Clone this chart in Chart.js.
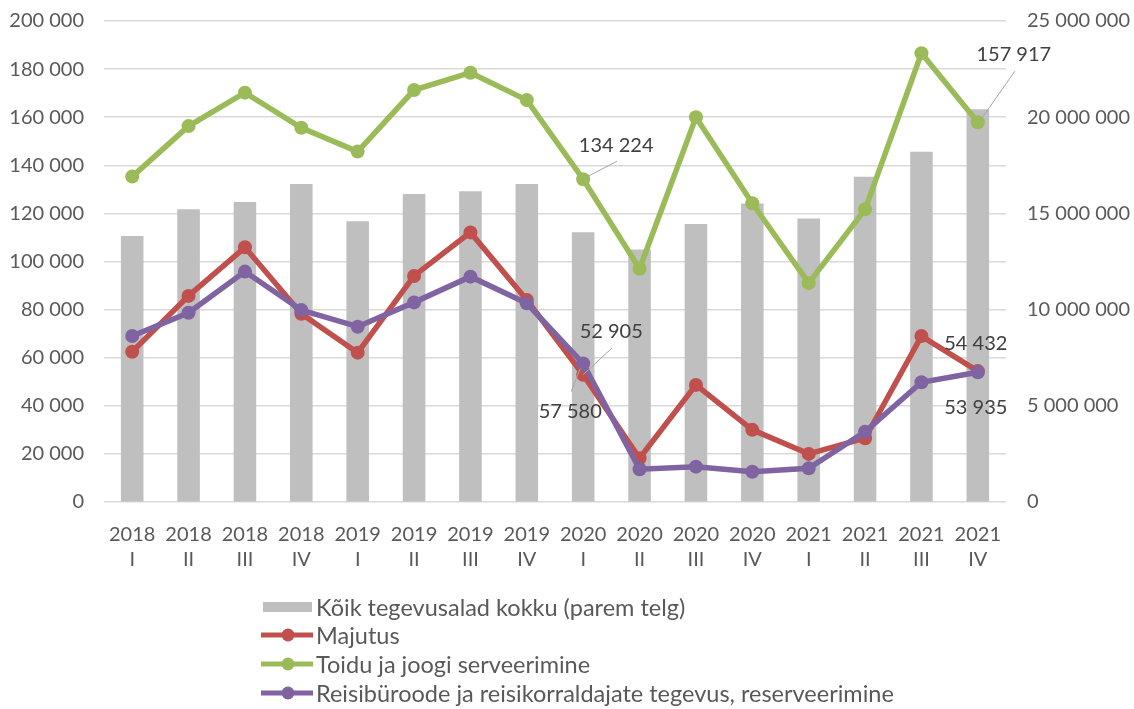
<!DOCTYPE html>
<html lang="et">
<head>
  <meta charset="UTF-8" />
  <title>Tegevusalad kvartalite kaupa</title>
  <script src="https://cdn.jsdelivr.net/npm/chart.js"></script>
  <style>
    body { margin: 0; background: #fff; }
    .wrap { position: relative; width: 1134px; height: 709px; }
  </style>
</head>
<body>
  <div class="wrap">
    <canvas id="chart"></canvas>
  </div>

  <script>
    // --- data ---
    const years = ['2018','2018','2018','2018','2019','2019','2019','2019','2020','2020','2020','2020','2021','2021','2021','2021'];
    const quarters = ['I','II','III','IV','I','II','III','IV','I','II','III','IV','I','II','III','IV'];

    const kokku = [13830000, 15210000, 15590000, 16530000, 14590000, 16010000, 16150000, 16530000,
                   14020000, 13130000, 14450000, 15520000, 14730000, 16910000, 18210000, 20410000];
    const majutus = [62500, 85700, 105900, 78300, 62100, 94000, 112100, 84000,
                     52905, 18200, 48700, 30000, 20000, 26500, 69000, 54432];
    const toit = [135300, 156300, 170200, 155600, 145700, 171300, 178500, 167100,
                  134224, 97000, 160000, 124200, 91000, 121700, 186600, 157917];
    const reisi = [69000, 78700, 95800, 79800, 72900, 83000, 93700, 82600,
                   57580, 13600, 14700, 12600, 14000, 29200, 49800, 53935];

    const leftTicks = [0, 20000, 40000, 60000, 80000, 100000, 120000, 140000, 160000, 180000, 200000];
    const rightTicks = [0, 5000000, 10000000, 15000000, 20000000, 25000000];

    const seriesNames = [
      'Kõik tegevusalad kokku (parem telg)',
      'Majutus',
      'Toidu ja joogi serveerimine',
      'Reisibüroode ja reisikorraldajate tegevus, reserveerimine'
    ];

    const FONT = 'Lato, "Open Sans", sans-serif';
    const textGray = '#595959';

    function fmt(v) {
      return String(v).replace(/\B(?=(\d{3})+(?!\d))/g, ' ');
    }

    // which points get a value label: dataset index, point index, text offset, leader line
    const labelSpots = [
      { ds: 2, i: 8,  dx: 33, dy: -34, line: [3, -2, 34, -18] },
      { ds: 2, i: 15, dx: 36, dy: -68, line: [4, -4, 37, -51] },
      { ds: 1, i: 8,  dx: 28, dy: -43, line: [0, 0, 29, -27] },
      { ds: 3, i: 8,  dx: -13, dy: 48, line: [-3, 5, -12, 28] },
      { ds: 1, i: 15, dx: -2, dy: -28 },
      { ds: 3, i: 15, dx: -2, dy: 35 }
    ];

    const valueLabels = {
      id: 'valueLabels',
      afterDatasetsDraw(chart) {
        const ctx = chart.ctx;
        ctx.save();
        labelSpots.forEach(s => {
          const el = chart.getDatasetMeta(s.ds).data[s.i];
          const val = chart.data.datasets[s.ds].data[s.i];
          if (s.line) {
            ctx.strokeStyle = '#a6a6a6';
            ctx.lineWidth = 1;
            ctx.beginPath();
            ctx.moveTo(el.x + s.line[0], el.y + s.line[1]);
            ctx.lineTo(el.x + s.line[2], el.y + s.line[3]);
            ctx.stroke();
          }
          ctx.fillStyle = '#404040';
          ctx.font = '20px ' + FONT;
          ctx.textAlign = 'center';
          ctx.textBaseline = 'middle';
          ctx.fillText(fmt(val), el.x + s.dx, el.y + s.dy);
        });
        ctx.restore();
      }
    };

    // stacked legend below the chart
    const stackedLegend = {
      id: 'stackedLegend',
      afterDraw(chart) {
        const ctx = chart.ctx;
        const rowY = [607, 635, 664, 693];
        ctx.save();
        ctx.font = '23.5px ' + FONT;
        ctx.textBaseline = 'middle';
        ctx.textAlign = 'left';
        chart.data.datasets.forEach((ds, k) => {
          const y = rowY[k];
          if (ds.type === 'bar') {
            ctx.fillStyle = ds.backgroundColor;
            ctx.fillRect(263, y - 5, 49, 10);
          } else {
            ctx.strokeStyle = ds.borderColor;
            ctx.lineWidth = 5;
            ctx.beginPath();
            ctx.moveTo(261, y);
            ctx.lineTo(313, y);
            ctx.stroke();
            ctx.fillStyle = ds.borderColor;
            ctx.beginPath();
            ctx.arc(288, y, 6.5, 0, Math.PI * 2);
            ctx.fill();
          }
          ctx.fillStyle = textGray;
          ctx.fillText(ds.label, 316, y + 1);
        });
        ctx.restore();
      }
    };

    const lineStyle = (color) => ({
      type: 'line',
      borderColor: color,
      backgroundColor: color,
      borderWidth: 5.5,
      pointRadius: 7,
      pointHoverRadius: 7,
      pointBorderWidth: 0,
      tension: 0,
      yAxisID: 'y'
    });

    new Chart(document.getElementById('chart'), {
      data: {
        labels: years.map((y, i) => [y, quarters[i]]),
        datasets: [
          {
            type: 'bar',
            label: seriesNames[0],
            data: kokku,
            backgroundColor: '#bfbfbf',
            barPercentage: 0.4,
            categoryPercentage: 1,
            yAxisID: 'y1',
            order: 4
          },
          Object.assign(lineStyle('#c0504d'), { label: seriesNames[1], data: majutus, order: 2 }),
          Object.assign(lineStyle('#9bbb59'), { label: seriesNames[2], data: toit, order: 3 }),
          Object.assign(lineStyle('#8064a2'), { label: seriesNames[3], data: reisi, order: 1 })
        ]
      },
      options: {
        responsive: true,
        maintainAspectRatio: false,
        animation: false,
        layout: { padding: { top: 21, left: 0, right: 0, bottom: 0 } },
        plugins: {
          legend: { display: false },
          tooltip: { enabled: false }
        },
        scales: {
          x: {
            grid: { display: false },
            border: { display: false },
            ticks: {
              color: textGray,
              font: { family: FONT, size: 20, lineHeight: 1.25 },
              padding: 12,
              maxRotation: 0,
              autoSkip: false
            },
            afterFit(scale) { scale.height = 207; }
          },
          y: {
            position: 'left',
            min: 0,
            max: 200000,
            afterBuildTicks(scale) { scale.ticks = leftTicks.map(v => ({ value: v })); },
            // invisible tick marks give the gap between labels and plot
            grid: { color: '#d9d9d9', lineWidth: 1.5, drawTicks: true, tickLength: 20, tickColor: 'rgba(0,0,0,0)' },
            border: { display: false },
            ticks: {
              color: textGray,
              font: { family: FONT, size: 20 },
              padding: 0,
              callback: v => fmt(v)
            },
            afterFit(scale) { scale.width = 104; }
          },
          y1: {
            position: 'right',
            min: 0,
            max: 25000000,
            afterBuildTicks(scale) { scale.ticks = rightTicks.map(v => ({ value: v })); },
            grid: { drawOnChartArea: false, drawTicks: true, tickLength: 21, tickColor: 'rgba(0,0,0,0)' },
            border: { display: false },
            ticks: {
              color: textGray,
              font: { family: FONT, size: 20 },
              padding: 0,
              callback: v => fmt(v)
            },
            afterFit(scale) { scale.width = 128; }
          }
        }
      },
      plugins: [valueLabels, stackedLegend]
    });
  </script>
</body>
</html>
